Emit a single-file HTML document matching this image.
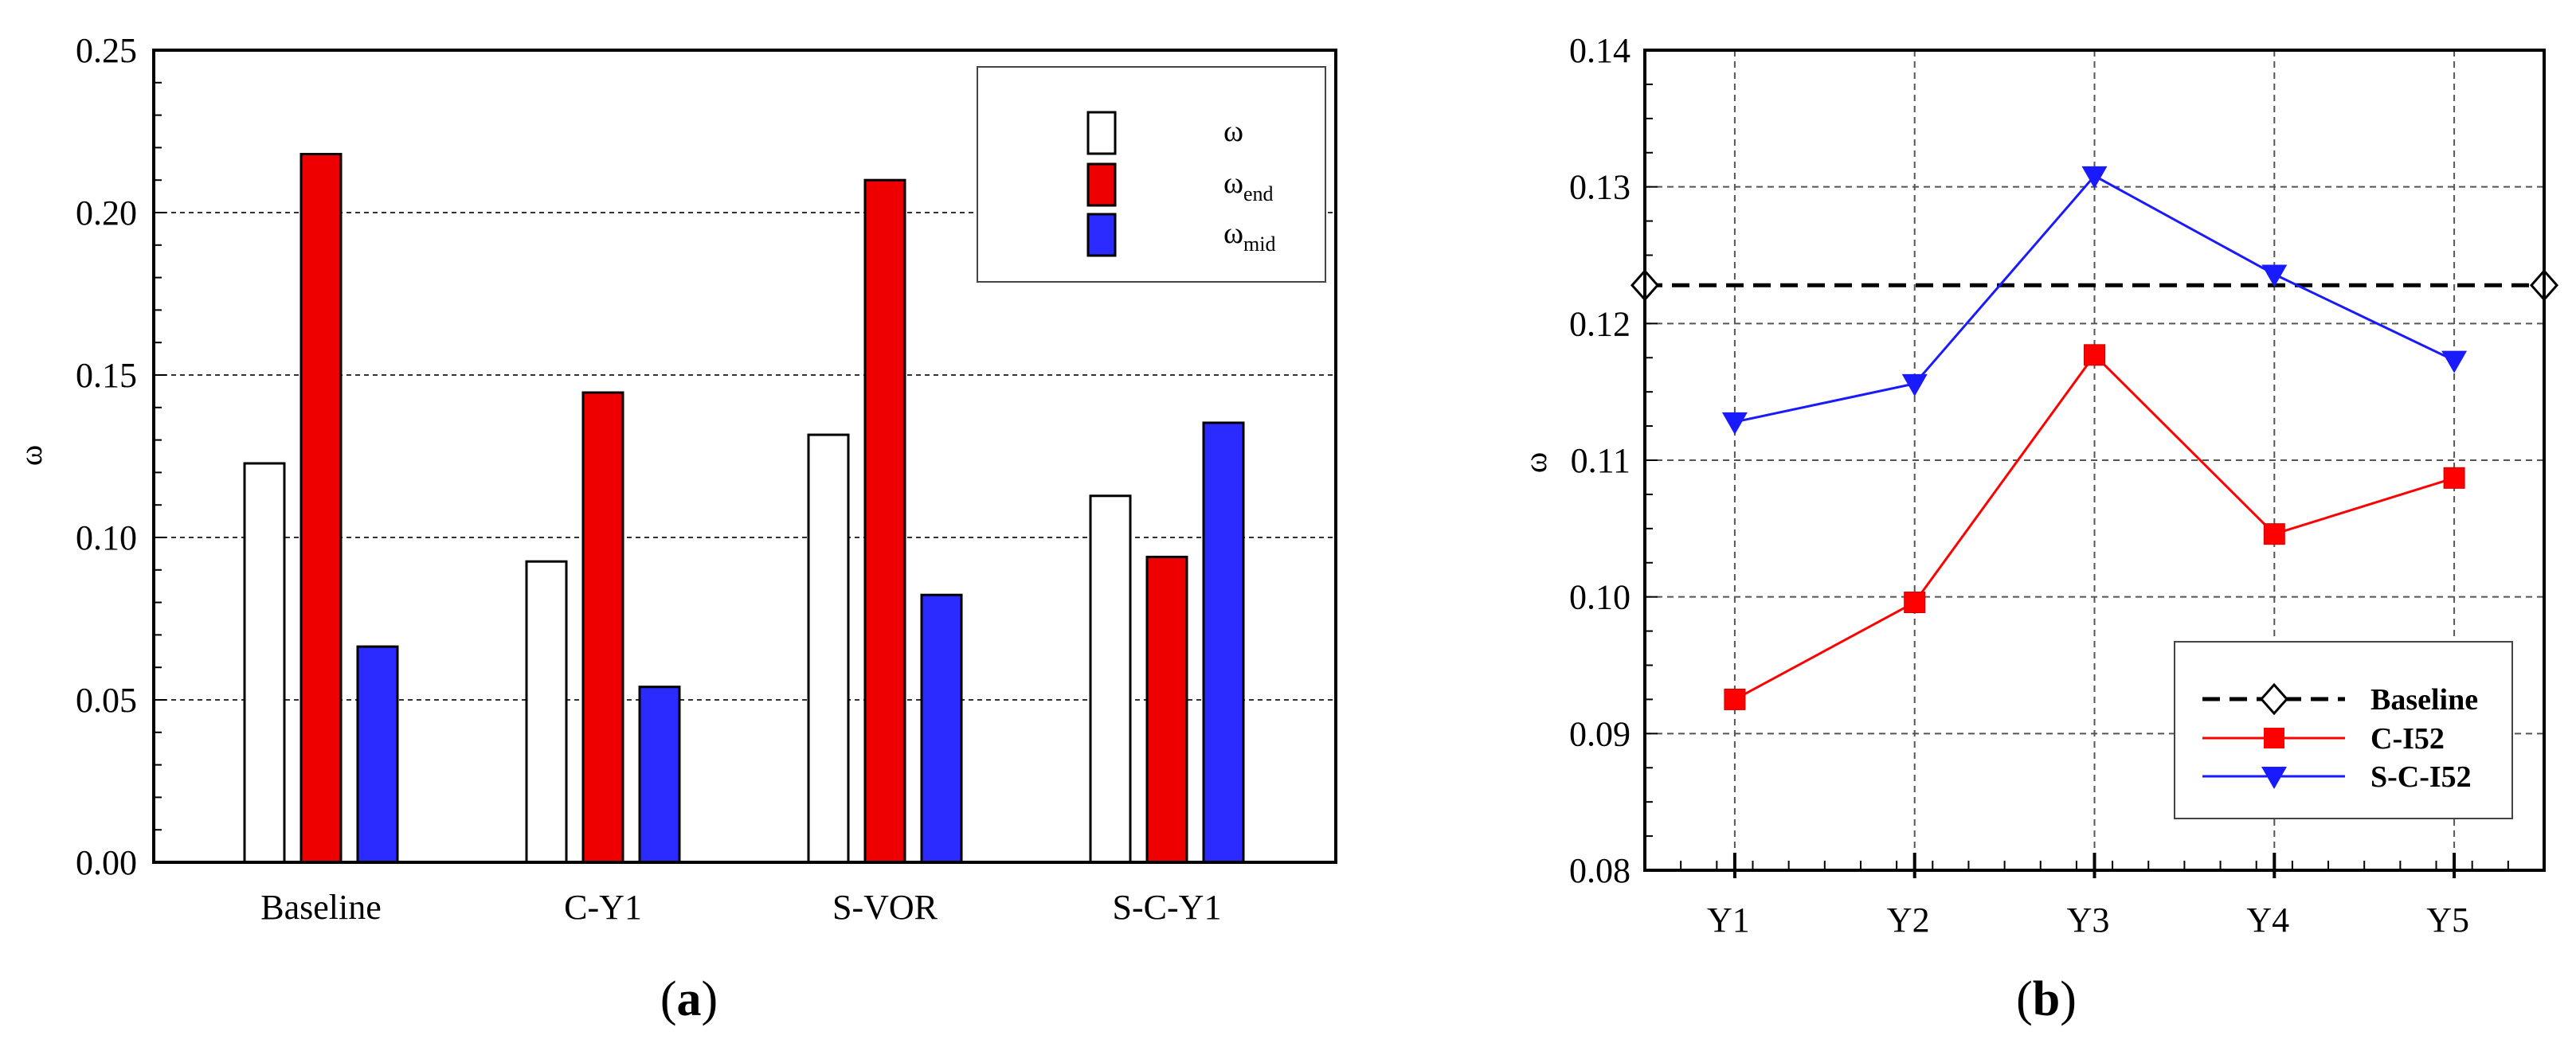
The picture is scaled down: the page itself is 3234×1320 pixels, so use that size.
<!DOCTYPE html>
<html><head><meta charset="utf-8"><style>
html,body{margin:0;padding:0;background:#fff;}
svg{display:block;font-family:"Liberation Serif",serif;}
</style></head><body>
<svg id="fig" width="3234" height="1320" viewBox="0 0 3234 1320">
<g id="chartA"></g>
<g id="chartB"></g>
</svg>
<script>
const NS="http://www.w3.org/2000/svg";
// ---- data (a)
const catsA=["Baseline","C-Y1","S-VOR","S-C-Y1"];
const omega=[0.1228,0.0926,0.1316,0.1128];
const omegaEnd=[0.218,0.1446,0.210,0.094];
const omegaMid=[0.0664,0.054,0.0823,0.1353];
const ticksA=["0.00","0.05","0.10","0.15","0.20","0.25"];
// ---- data (b)
const catsB=["Y1","Y2","Y3","Y4","Y5"];
const cI52=[0.0925,0.0996,0.1177,0.1046,0.1087];
const scI52=[0.1128,0.1156,0.1308,0.1236,0.1173];
const baselineVal=[0.1228];
const ticksB=["0.08","0.09","0.10","0.11","0.12","0.13","0.14"];

function el(parent,tag,attrs,text){const e=document.createElementNS(NS,tag);for(const k in attrs)e.setAttribute(k,attrs[k]);if(text!==undefined)e.textContent=text;parent.appendChild(e);return e;}

// ===== Chart A
(function(){
const g=document.getElementById('chartA');
const L=193,R=1677,T=63,B=1083;
const y=v=>B-(v-0)/0.25*(B-T);
const groupX=i=>307+i*354;
// grid
[0.05,0.10,0.15,0.20].forEach(v=>{
 const l=el(g,'line',{x1:L,x2:R,y1:y(v),y2:y(v),stroke:'#333','stroke-width':2,'stroke-dasharray':'6,5'});
 
 
});
// minor ticks
for(let k=0;k<=25;k++){const v=k*0.01;const len=k%5==0?16:10;
 const t=el(g,'line',{x1:L,x2:L+len,y1:y(v),y2:y(v),stroke:'#000','stroke-width':2});
 
 
}
// bars
const series=[[omega,'#ffffff'],[omegaEnd,'#ee0000'],[omegaMid,'#2b2bff']];
catsA.forEach((c,i)=>{
 series.forEach((s,j)=>{
  const x=groupX(i)+j*71;const v=s[0][i];
  const r=el(g,'rect',{x:x,y:y(v),width:50,height:B-y(v),fill:s[1],stroke:'#000','stroke-width':3});
  
  
 });
 const t=el(g,'text',{x:groupX(i)+96,y:1154,'font-size':44,'text-anchor':'middle'},c);
 
 
});
ticksA.forEach((s,k)=>{
 const t=el(g,'text',{x:172,y:y(k*0.05)+15,'font-size':44,'text-anchor':'end'},s);
 
 
});
const fr=el(g,'rect',{x:L,y:T,width:R-L,height:B-T,fill:'none',stroke:'#000','stroke-width':4});


const yl=el(g,'text',{x:0,y:0,'font-size':40,'text-anchor':'middle',transform:'translate(52,572) rotate(-90)'},'ω');


// legend
const lg=el(g,'g',{});


el(lg,'rect',{x:1227,y:84,width:437,height:270,fill:'#fff',stroke:'#444','stroke-width':2});
const ly=[141,206,269];const subs=['','end','mid'];
series.forEach((s,j)=>{
 const r=el(lg,'rect',{x:1366,y:ly[j],width:34,height:52,fill:s[1],stroke:'#000','stroke-width':3});
 
 
 const t=el(lg,'text',{x:1536,y:ly[j]+36,'font-size':38},'ω');
 if(subs[j]) el(t,'tspan',{'font-size':26,dy:10},subs[j]);
 
 
});
const cap=el(g,'text',{x:865,y:1275,'font-size':62,'text-anchor':'middle'},'(');


el(cap,'tspan',{'font-weight':'bold'},'a');el(cap,'tspan',{},')');
})();

// ===== Chart B
(function(){
const g=document.getElementById('chartB');
const L=2065,R=3194,T=63,B=1093;
const x=i=>L+(i+0.5)/5*(R-L);
const y=v=>B-(v-0.08)/0.06*(B-T);
// grids
for(let k=1;k<6;k++){const v=0.08+k*0.01;
 const l=el(g,'line',{x1:L,x2:R,y1:y(v),y2:y(v),stroke:'#555','stroke-width':2,'stroke-dasharray':'8,6'});
 
 
}
catsB.forEach((c,i)=>{
 const l=el(g,'line',{x1:x(i),x2:x(i),y1:T,y2:B,stroke:'#555','stroke-width':2,'stroke-dasharray':'8,6'});
 
 
 const t=el(g,'text',{x:x(i)-8,y:1170,'font-size':44,'text-anchor':'middle'},c);
 
 
 const tk=el(g,'line',{x1:x(i),x2:x(i),y1:B-22,y2:B+10,stroke:'#000','stroke-width':4});
 
 
});
for(let k=0;k<=25;k++){const xv=L+k*(R-L)/25;
 const tk=el(g,'line',{x1:xv,x2:xv,y1:B-12,y2:B,stroke:'#000','stroke-width':2});
 
 
}
for(let k=0;k<=24;k++){const v=0.08+k*0.0025;const len=k%4==0?16:10;
 const t=el(g,'line',{x1:L,x2:L+len,y1:y(v),y2:y(v),stroke:'#000','stroke-width':2});
 
 
}
ticksB.forEach((s,k)=>{
 const t=el(g,'text',{x:2047,y:y(0.08+k*0.01)+15,'font-size':44,'text-anchor':'end'},s);
 
 
});
// baseline
const bl=el(g,'line',{x1:L,x2:R,y1:y(baselineVal[0]),y2:y(baselineVal[0]),stroke:'#000','stroke-width':5,'stroke-dasharray':'22,12'});


function diamond(cx,cy){const d=el(g,'path',{d:`M${cx-16},${cy}L${cx},${cy-18}L${cx+16},${cy}L${cx},${cy+18}Z`,fill:'#fff',stroke:'#000','stroke-width':3});
 
 }
diamond(L,y(baselineVal[0]));diamond(R,y(baselineVal[0]));
// series
const pr=el(g,'polyline',{points:cI52.map((v,i)=>x(i)+','+y(v)).join(' '),fill:'none',stroke:'#ff0000','stroke-width':3});


cI52.forEach((v,i)=>{const r=el(g,'rect',{x:x(i)-13,y:y(v)-13,width:26,height:26,fill:'#ff0000',stroke:'#cc0000','stroke-width':1});
 
 });
const pb=el(g,'polyline',{points:scI52.map((v,i)=>x(i)+','+y(v)).join(' '),fill:'none',stroke:'#1a1aff','stroke-width':3});


scI52.forEach((v,i)=>{const cx=x(i),cy=y(v);const p=el(g,'path',{d:`M${cx-16},${cy-12}L${cx+16},${cy-12}L${cx},${cy+16}Z`,fill:'#1a1aff'});
 
 });
const fr=el(g,'rect',{x:L,y:T,width:R-L,height:B-T,fill:'none',stroke:'#000','stroke-width':4});


const yl=el(g,'text',{x:0,y:0,'font-size':40,'text-anchor':'middle',transform:'translate(1941,581) rotate(-90)'},'ω');


// legend
const lg=el(g,'g',{});


el(lg,'rect',{x:2730,y:806,width:424,height:222,fill:'#fff',stroke:'#444','stroke-width':2});
el(lg,'line',{x1:2765,x2:2944,y1:878,y2:878,stroke:'#000','stroke-width':5,'stroke-dasharray':'22,12'});
el(lg,'path',{d:'M2839,878L2855,860L2871,878L2855,896Z',fill:'#fff',stroke:'#000','stroke-width':3});
el(lg,'line',{x1:2765,x2:2944,y1:927,y2:927,stroke:'#ff0000','stroke-width':3});
el(lg,'rect',{x:2842,y:914,width:26,height:26,fill:'#ff0000'});
el(lg,'line',{x1:2765,x2:2944,y1:975,y2:975,stroke:'#1a1aff','stroke-width':3});
el(lg,'path',{d:'M2839,963L2871,963L2855,991Z',fill:'#1a1aff'});
[['Baseline',878],['C-I52',927],['S-C-I52',975]].forEach(a=>{
 const t=el(lg,'text',{x:2976,y:a[1]+13,'font-size':38,'font-weight':'bold'},a[0]);
 
 
});
const cap=el(g,'text',{x:2569,y:1275,'font-size':62,'text-anchor':'middle'},'(');


el(cap,'tspan',{'font-weight':'bold'},'b');el(cap,'tspan',{},')');
})();
</script>
</body></html>
